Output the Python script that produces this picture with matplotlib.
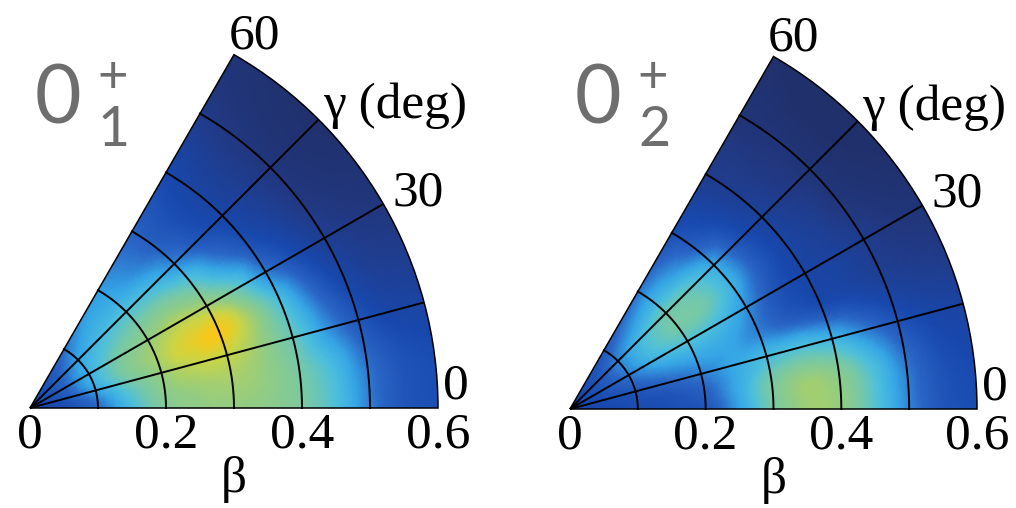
import numpy as np
import matplotlib
matplotlib.use("Agg")
import matplotlib.pyplot as plt
import matplotlib.tri as mtri
from matplotlib.colors import LinearSegmentedColormap
from matplotlib.patches import Wedge

# deformation grid: beta (columns) and gamma in degrees (rows)
beta = [0.0, 0.05, 0.1, 0.15, 0.2, 0.25, 0.3, 0.35, 0.4, 0.45, 0.5, 0.55, 0.6]
gamma = [0, 7.5, 15, 22.5, 30, 37.5, 45, 52.5, 60]

# collective wave function density, normalised to the brightest point
dens_01 = [
    [0.30, 0.32, 0.42, 0.60, 0.75, 0.79, 0.80, 0.78, 0.73, 0.62, 0.46, 0.36, 0.33],
    [0.30, 0.33, 0.46, 0.64, 0.78, 0.82, 0.83, 0.80, 0.72, 0.60, 0.44, 0.35, 0.32],
    [0.30, 0.35, 0.52, 0.70, 0.81, 0.88, 0.89, 0.81, 0.68, 0.50, 0.36, 0.28, 0.26],
    [0.30, 0.37, 0.56, 0.74, 0.84, 0.94, 1.00, 0.83, 0.62, 0.42, 0.28, 0.20, 0.18],
    [0.30, 0.38, 0.56, 0.72, 0.80, 0.86, 0.83, 0.68, 0.46, 0.32, 0.20, 0.14, 0.12],
    [0.30, 0.38, 0.55, 0.66, 0.72, 0.74, 0.66, 0.48, 0.34, 0.24, 0.14, 0.10, 0.08],
    [0.30, 0.38, 0.52, 0.60, 0.63, 0.59, 0.48, 0.36, 0.28, 0.20, 0.12, 0.08, 0.06],
    [0.30, 0.36, 0.48, 0.55, 0.54, 0.48, 0.40, 0.33, 0.27, 0.20, 0.13, 0.09, 0.07],
    [0.30, 0.35, 0.44, 0.50, 0.50, 0.45, 0.40, 0.35, 0.30, 0.24, 0.17, 0.12, 0.10],
]

dens_02 = [
    [0.30, 0.30, 0.32, 0.33, 0.36, 0.52, 0.72, 0.82, 0.80, 0.64, 0.47, 0.36, 0.32],
    [0.30, 0.31, 0.33, 0.35, 0.40, 0.54, 0.72, 0.81, 0.77, 0.62, 0.45, 0.34, 0.30],
    [0.30, 0.32, 0.36, 0.41, 0.46, 0.53, 0.60, 0.62, 0.57, 0.46, 0.35, 0.28, 0.25],
    [0.30, 0.33, 0.41, 0.49, 0.53, 0.53, 0.46, 0.38, 0.32, 0.28, 0.22, 0.18, 0.16],
    [0.30, 0.34, 0.45, 0.57, 0.63, 0.60, 0.49, 0.35, 0.28, 0.24, 0.18, 0.12, 0.10],
    [0.30, 0.35, 0.47, 0.62, 0.71, 0.70, 0.56, 0.38, 0.27, 0.20, 0.12, 0.08, 0.06],
    [0.30, 0.35, 0.47, 0.60, 0.69, 0.66, 0.53, 0.35, 0.24, 0.16, 0.10, 0.06, 0.05],
    [0.30, 0.34, 0.43, 0.51, 0.56, 0.51, 0.40, 0.30, 0.20, 0.14, 0.10, 0.06, 0.05],
    [0.30, 0.33, 0.38, 0.42, 0.44, 0.40, 0.33, 0.26, 0.18, 0.14, 0.10, 0.08, 0.06],
]

beta_ticks = [0.0, 0.2, 0.4, 0.6]
beta_ticklabels = ["0", "0.2", "0.4", "0.6"]
gamma_lines = [15, 30, 45]
beta_lines = [0.1, 0.2, 0.3, 0.4, 0.5]
state_sub = ["1", "2"]

cmap = LinearSegmentedColormap.from_list("dens", [
    (0.00, "#1f2b5e"),
    (0.15, "#213a86"),
    (0.30, "#1848ad"),
    (0.42, "#2a66c6"),
    (0.52, "#36a6e6"),
    (0.62, "#4ec0dc"),
    (0.70, "#72c8ae"),
    (0.80, "#92cc84"),
    (0.90, "#cdd544"),
    (1.00, "#f8c81a"),
])

W, H = 1016, 508
fig = plt.figure(figsize=(W / 100, H / 100), dpi=100)
serif = "Liberation Serif"
label_font = ["Lato", "DejaVu Sans"]
RMAX = 0.6

# triangles on the (beta, gamma) grid
nb, ng = len(beta), len(gamma)
idx = np.arange(nb * ng).reshape(ng, nb)
tris = []
for i in range(ng - 1):
    for j in range(nb - 1):
        a, b, c, d = idx[i, j], idx[i, j + 1], idx[i + 1, j + 1], idx[i + 1, j]
        tris += [[a, b, c], [a, c, d]]
B, G = np.meshgrid(beta, gamma)
tri_bg = mtri.Triangulation(B.ravel(), G.ravel() / 100.0, np.array(tris))
refiner = mtri.UniformTriRefiner(tri_bg)

# panel origin (px from left, px from top) and radius of beta=0.6 in px
panels = [(30, 408, 408), (570, 409, 407)]
pad = 12

for (x0, y0, rad), dens, sub in zip(panels, [dens_01, dens_02], state_sub):
    s = rad / RMAX
    h = rad * np.sin(np.deg2rad(60))
    ax = fig.add_axes([(x0 - pad) / W, (H - y0 - pad) / H,
                       (rad + 2 * pad) / W, (h + 2 * pad) / H])
    ax.set_xlim(-pad / s, RMAX + pad / s)
    ax.set_ylim(-pad / s, h / s + pad / s)
    ax.axis("off")

    z = np.array(dens).ravel()
    interp = mtri.CubicTriInterpolator(tri_bg, z, kind="geom")
    tri_f, z_f = refiner.refine_field(z, triinterpolator=interp, subdiv=3)
    th_f = np.deg2rad(tri_f.y * 100.0)
    tri_xy = mtri.Triangulation(tri_f.x * np.cos(th_f), tri_f.x * np.sin(th_f),
                                tri_f.triangles)
    mesh = ax.tripcolor(tri_xy, z_f, shading="gouraud", cmap=cmap,
                        vmin=0, vmax=1, zorder=1)
    clip = Wedge((0, 0), RMAX, 0, 60, transform=ax.transData)
    mesh.set_clip_path(clip)

    # grid: spokes of constant gamma and arcs of constant beta
    for g in gamma_lines:
        t = np.deg2rad(g)
        ax.plot([0, RMAX * np.cos(t)], [0, RMAX * np.sin(t)],
                color="black", lw=1.4, zorder=3, solid_capstyle="butt")
    th = np.linspace(0, np.pi / 3, 200)
    for b in beta_lines:
        ax.plot(b * np.cos(th), b * np.sin(th), color="black", lw=1.4, zorder=3)
    ax.add_patch(Wedge((0, 0), RMAX, 0, 60, facecolor="none",
                       edgecolor="black", lw=1.1, zorder=4))

    # beta tick labels and axis title
    for b, lab in zip(beta_ticks, beta_ticklabels):
        ax.annotate(lab, (b, 0), xytext=(0, -19.5), textcoords="offset points",
                    ha="center", va="center", fontsize=37, family=serif,
                    annotation_clip=False)
    ax.annotate("β", (0.3, 0), xytext=(0, -51.5), textcoords="offset points",
                ha="center", va="center", fontsize=37, family=serif,
                annotation_clip=False)

    # gamma labels along the outer arc
    glabels = [(0, "0", (3.5, 15.5), "left"), (30, "30", (6.5, 8), "left"),
               (45, "γ (deg)", (3, 10), "left"), (60, "60", (14.5, 13.5), "center")]
    for g, lab, off, ha in glabels:
        t = np.deg2rad(g)
        ax.annotate(lab, (RMAX * np.cos(t), RMAX * np.sin(t)), xytext=off,
                    textcoords="offset points", ha=ha, va="center",
                    fontsize=37, family=serif, annotation_clip=False)

    # state label 0+_n
    fig.text((x0 + 28) / W, (H - 100) / H, "0", color="#6e6e6e",
             fontsize=58, family=label_font, fontweight="normal",
             ha="center", va="center")
    fig.text((x0 + 83) / W, (H - 78) / H, "+", color="#6e6e6e",
             fontsize=38, family=label_font, fontweight="normal",
             ha="center", va="center")
    fig.text((x0 + 84) / W, (H - 130) / H, sub, color="#6e6e6e",
             fontsize=40, family=label_font, fontweight="normal",
             ha="center", va="center")

fig.savefig("out.png", dpi=100)
